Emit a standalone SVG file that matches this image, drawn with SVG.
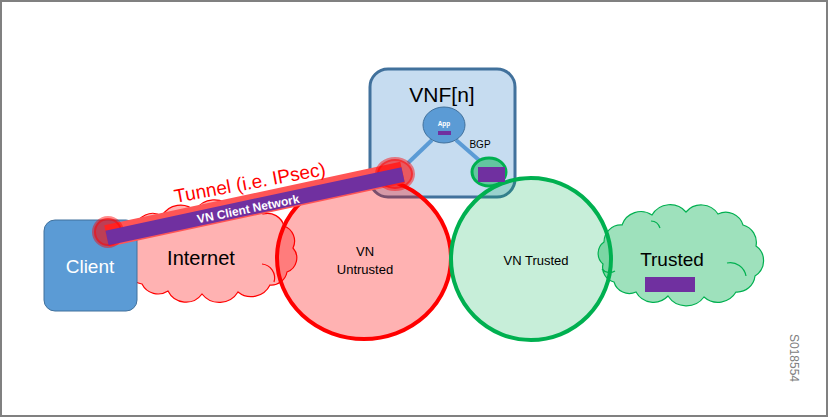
<svg xmlns="http://www.w3.org/2000/svg" width="829" height="419" viewBox="0 0 829 419">
<style>
text{font-family:"Liberation Sans",Arial,sans-serif}
.lbl{fill:#000}
.cloudR{fill:#FF0000;fill-opacity:0.3;stroke:#FF0000;stroke-width:1.2}
.cloudG{fill:#00B050;fill-opacity:0.38;stroke:#00B050;stroke-width:1.2}
.crease{fill:none;stroke-width:1.2}
.purple{fill:#7030A0}
.redDot{fill:#FF0000;fill-opacity:0.6;stroke:#FF0000;stroke-opacity:0.45;stroke-width:4}
</style>
<rect x="1" y="1" width="826" height="415" fill="#FFFFFF" stroke="#808080" stroke-width="2"/>

<g id="vnf">
  <rect x="370" y="69" width="145" height="128" rx="18" ry="18" fill="#5B9BD5" fill-opacity="0.35" stroke="#41719C" stroke-width="3"/>
</g>

<g id="internet">
  <path class="cloudR" d="M128,262 A21,21 0 0 1 135,228 A18,18 0 0 1 162,216 A21,21 0 0 1 195,211 A22,22 0 0 1 232,209 A20,20 0 0 1 263,214 A17,17 0 0 1 284,226 A16,16 0 0 1 293,248 A15,15 0 0 1 287,272 A16,16 0 0 1 270,285 A21,21 0 0 1 238,292 A22,22 0 0 1 202,294 A20,20 0 0 1 168,291 A18,18 0 0 1 142,284 A17,17 0 0 1 128,262 Z"/>
  <path class="crease" stroke="#FF0000" d="M262,264 A14,14 0 0 1 274,282"/>
  <text class="lbl" x="201" y="265" font-size="20" text-anchor="middle">Internet</text>
</g>

<g id="trusted">
  <path class="cloudG" d="M604,242 A17,17 0 0 1 622,225 A20,20 0 0 1 652,215 A21,21 0 0 1 686,212 A20,20 0 0 1 718,214 A18,18 0 0 1 743,225 A18,18 0 0 1 756,246 A18,18 0 0 1 755,276 A18,18 0 0 1 736,292 A21,21 0 0 1 704,297 A22,22 0 0 1 668,296 A20,20 0 0 1 636,292 A16,16 0 0 1 614,282 A15,15 0 0 1 603,264 A14,14 0 0 1 604,242 Z"/>
  <path class="crease" stroke="#00B050" d="M727,263 A16,16 0 0 1 746,276"/>
  <path class="crease" stroke="#00B050" d="M602,269 A10,10 0 0 0 615,271"/>
  <path class="crease" stroke="#00B050" d="M651,221 A10,10 0 0 1 660,228"/>
  <text class="lbl" x="672" y="266" font-size="19" text-anchor="middle">Trusted</text>
  <rect class="purple" x="645" y="277" width="50" height="15"/>
</g>

<g id="vn-untrusted">
  <ellipse cx="364" cy="258" rx="87" ry="81" fill="#FF0000" fill-opacity="0.3" stroke="#FF0000" stroke-width="4"/>
  <text class="lbl" x="365" y="256" font-size="13" text-anchor="middle">VN</text>
  <text class="lbl" x="365" y="274" font-size="13" text-anchor="middle">Untrusted</text>
</g>

<g id="vn-trusted">
  <ellipse cx="531" cy="259" rx="80" ry="81" fill="#00B050" fill-opacity="0.22" stroke="#00B050" stroke-width="4"/>
  <text class="lbl" x="536" y="265" font-size="13" text-anchor="middle">VN Trusted</text>
</g>

<g id="client">
  <rect x="44" y="220" width="93" height="91" rx="11" ry="11" fill="#5B9BD5" stroke="#41719C" stroke-width="1"/>
  <text x="90" y="273" font-size="19" fill="#FFFFFF" text-anchor="middle">Client</text>
</g>

<g id="connectors">
  <line x1="432" y1="140" x2="408" y2="163" stroke="#5B9BD5" stroke-width="4"/>
  <line x1="456" y1="140" x2="480" y2="161" stroke="#5B9BD5" stroke-width="4"/>
  <line x1="106.6" y1="236" x2="402.6" y2="172.5" stroke="#FF5555" stroke-width="22"/>
  <ellipse class="redDot" cx="108" cy="232" rx="14" ry="14"/>
  <ellipse class="redDot" cx="395" cy="174" rx="18" ry="15"/>
  <line x1="107" y1="238" x2="403" y2="174.5" stroke="#7030A0" stroke-width="15"/>
  <text x="0" y="0" font-size="12" font-weight="bold" fill="#FFFFFF" text-anchor="middle" transform="translate(249,213) rotate(-11.5)">VN Client Network</text>
  <text x="0" y="0" font-size="19" fill="#FF0000" text-anchor="middle" transform="translate(251,189) rotate(-10.5)">Tunnel (i.e. IPsec)</text>
</g>

<g id="app">
  <ellipse cx="444" cy="125" rx="21" ry="18" fill="#5B9BD5" stroke="#41719C" stroke-width="1"/>
  <text x="444" y="126" font-size="6.5" font-weight="bold" fill="#FFFFFF" text-anchor="middle">App</text>
  <rect class="purple" x="438" y="131" width="13" height="4"/>
</g>

<g id="bgp">
  <ellipse cx="489" cy="172" rx="17" ry="14" fill="#00B050" fill-opacity="0.5" stroke="#00B050" stroke-width="3"/>
  <rect class="purple" x="478" y="167" width="27" height="15"/>
  <text class="lbl" x="480" y="148" font-size="10" text-anchor="middle">BGP</text>
</g>

<g id="vnf-label">
  <text class="lbl" x="442" y="102" font-size="21" text-anchor="middle">VNF[n]</text>
</g>

<text x="0" y="0" font-size="12" fill="#808080" text-anchor="middle" transform="translate(790,358) rotate(90)">S018554</text>
</svg>
